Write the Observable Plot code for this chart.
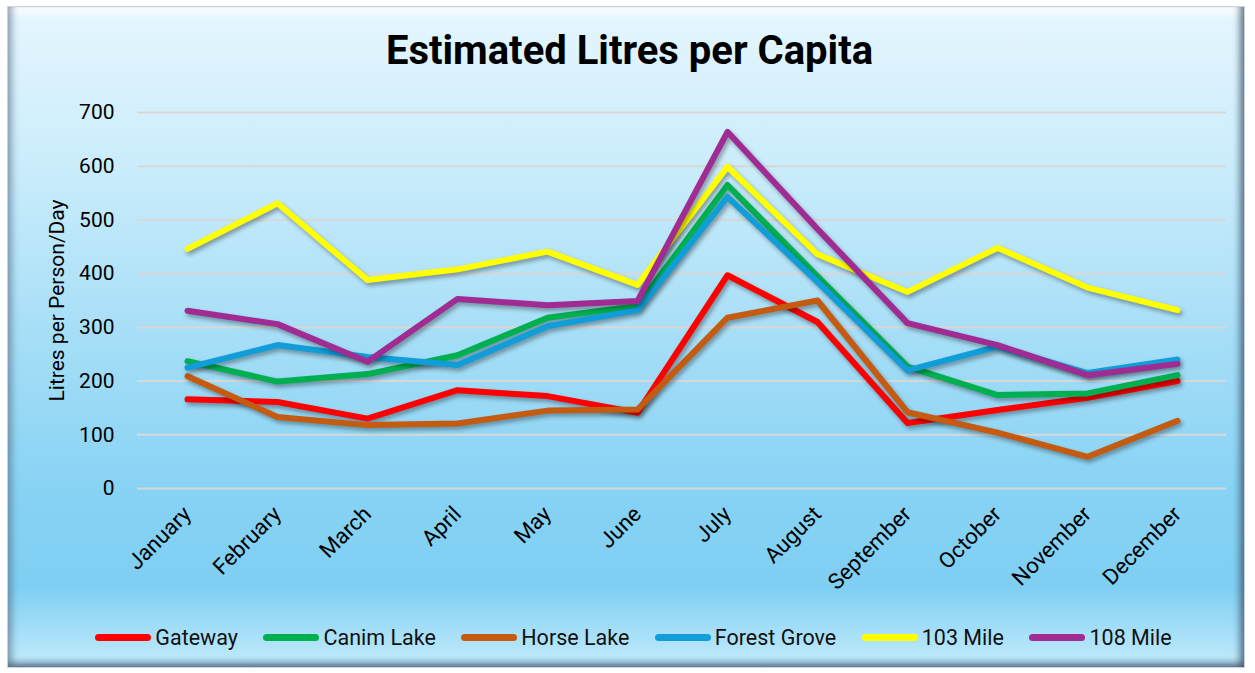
<!DOCTYPE html>
<html>
<head>
<meta charset="utf-8">
<script src="https://cdn.jsdelivr.net/npm/d3@7"></script>
<script src="https://cdn.jsdelivr.net/npm/@observablehq/plot@0.6"></script>
<style>
  html, body { margin: 0; padding: 0; background: #ffffff; }
  body { width: 1255px; height: 673px; position: relative; overflow: hidden; font-family: Roboto, "Liberation Sans", sans-serif; }
  #frame {
    position: absolute; left: 7px; top: 6px; width: 1238px; height: 662px;
    box-sizing: border-box;
    border: 1px solid #c9d3dc;
    background: linear-gradient(to bottom, #e6f6fe 0%, #c9ecfb 25%, #a6def7 50%, #86d2f4 75%, #7fcff3 88%, #c4ecfc 100%);
    box-shadow:
      inset 9px 0 7px -5px rgba(80,100,125,0.55),
      inset -9px 0 7px -5px rgba(55,75,100,0.75),
      inset 0 12px 8px -6px rgba(255,255,255,0.95),
      inset 0 -9px 7px -5px rgba(55,75,100,0.75);
  }
  #title {
    position: absolute; left: 2px; top: 27px; width: 1255px; text-align: center;
    font-family: Roboto, Inter, sans-serif; font-weight: 700; font-size: 40px; line-height: 48px; color: #000;
  }
  #chart { position: absolute; left: 0; top: 90px; }
  #chart svg { background: transparent; overflow: visible; }
  #chart g[aria-label="line"] path { filter: drop-shadow(2px 3px 2px rgba(0,0,0,0.35)); }
  #legend {
    position: absolute; left: 6px; top: 625px; width: 1255px;
    display: flex; justify-content: center; align-items: center; gap: 25.5px;
    font-family: Roboto, sans-serif; font-size: 21.5px; color: #111;
  }
  .item { display: flex; align-items: center; }
  .sw { width: 56px; height: 7px; border-radius: 4px; margin-right: 4px; }
</style>
</head>
<body>
<div id="frame"></div>
<div id="title">Estimated Litres per Capita</div>
<div id="chart"></div>
<div id="legend"></div>
<script>
const months = ["January","February","March","April","May","June","July","August","September","October","November","December"];
const seriesNames = ["Gateway","Canim Lake","Horse Lake","Forest Grove","103 Mile","108 Mile"];
const seriesColors = ["#ff0000","#00b050","#c55a11","#119dd8","#ffff00","#a02b93"];
const gateway  = [166,161,130,183,172,141,397,310,122,146,169,200];
const canim    = [237,199,213,248,318,340,565,395,227,174,177,211];
const horse    = [209,133,118,121,145,147,318,350,142,104,59,126];
const forest   = [225,267,245,230,302,332,543,385,220,264,215,240];
const mile103  = [446,531,388,408,441,379,599,436,366,448,374,332];
const mile108  = [331,306,236,353,341,349,664,483,308,267,211,232];
const yTicks = [0,100,200,300,400,500,600,700];
const yLabel = "Litres per Person/Day";

const allSeries = [gateway, canim, horse, forest, mile103, mile108];
const tables = allSeries.map((vals, i) => vals.map((v, j) => ({month: months[j], value: v, series: seriesNames[i]})));

const lineMarks = tables.map((t, i) => Plot.lineY(t, {
  x: "month", y: "value", stroke: seriesColors[i], strokeWidth: 6,
  strokeLinecap: "round", strokeLinejoin: "round"
}));

const chart = Plot.plot({
  width: 1255, height: 520,
  marginLeft: 137, marginRight: 29, marginTop: 22, marginBottom: 122,
  style: {background: "transparent", fontFamily: "Roboto, sans-serif", color: "#000"},
  x: {type: "point", domain: months, padding: 0.5},
  y: {domain: [0, 700]},
  marks: [
    Plot.gridY(yTicks, {stroke: "#d8d8d8", strokeOpacity: 1, strokeWidth: 2}),
    Plot.axisY(yTicks, {tickSize: 0, tickPadding: 23, fontSize: 21, label: null}),
    Plot.axisX({tickSize: 0, tickPadding: 22, tickRotate: -45, fontSize: 22, label: null, dx: 0}),
    Plot.text([yLabel], {frameAnchor: "left", textAnchor: "middle", dx: -80, rotate: -90, fontSize: 21, fill: "#000"}),
    ...lineMarks
  ]
});
document.getElementById("chart").appendChild(chart);

const legend = document.getElementById("legend");
seriesNames.forEach((name, i) => {
  const item = document.createElement("div");
  item.className = "item";
  const sw = document.createElement("span");
  sw.className = "sw";
  sw.style.background = seriesColors[i];
  const tx = document.createElement("span");
  tx.textContent = name;
  item.appendChild(sw);
  item.appendChild(tx);
  legend.appendChild(item);
});
</script>
</body>
</html>
